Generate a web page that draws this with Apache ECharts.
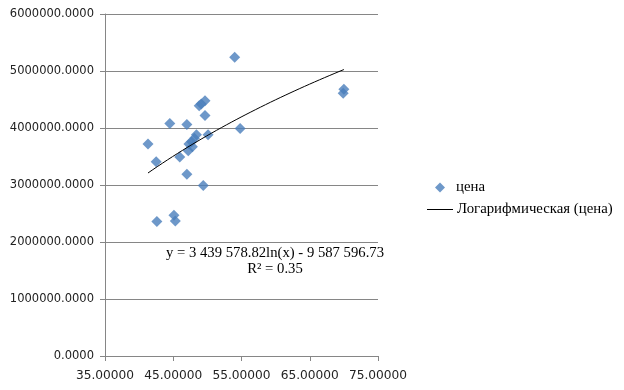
<!DOCTYPE html>
<html><head><meta charset="utf-8">
<script src="https://cdn.jsdelivr.net/npm/echarts@6/dist/echarts.min.js"></script>
<style>html,body{margin:0;padding:0;background:#fff}#c{width:624px;height:390px}</style>
</head><body><div id="c"></div>
<script>
const xValues = [54.0, 70.0, 69.9, 49.65, 49.1, 48.8, 49.65, 44.5, 47.0, 54.8, 41.3, 48.4, 50.1, 48.1, 47.7, 47.3, 47.8, 47.2, 45.95, 42.5, 47.0, 49.4, 42.6, 45.1, 45.3];
const yValues = [5240000, 4680000, 4610000, 4480000, 4420000, 4390000, 4220000, 4080000, 4060000, 3990000, 3720000, 3880000, 3880000, 3820000, 3760000, 3720000, 3670000, 3600000, 3490000, 3410000, 3190000, 2990000, 2360000, 2470000, 2370000];
const seriesName = 'цена';
const trendName = 'Логарифмическая (цена)';
const trendA = 3439578.82;   // coefficient shown on chart
const trendB = -9587596.73;  // intercept shown on chart
const eqText = 'y = 3 439 578.82ln(x) - 9 587 596.73';
const r2Text = 'R² = 0.35';

const pts = xValues.map((x, i) => [x, yValues[i]]);
const xmin = Math.min(...xValues), xmax = Math.max(...xValues);
const trend = [];
for (let k = 0; k <= 40; k++) {
  const x = xmin + (xmax - xmin) * k / 40;
  trend.push([x, trendA * Math.log(x) + trendB]);
}
const chart = echarts.init(document.getElementById('c'), null, {renderer: 'canvas'});
const axisColor = '#868686';
const serif = 'Liberation Serif';
chart.setOption({
  animation: false,
  grid: {left: 105, right: 246, top: 14, bottom: 34, containLabel: false},
  xAxis: {type: 'value', min: 35, max: 75, interval: 10,
    axisLine: {onZero: false, lineStyle: {color: axisColor}},
    axisTick: {show: true, length: 5, lineStyle: {color: axisColor}},
    splitLine: {show: false},
    axisLabel: {formatter: v => v.toFixed(5), margin: 14, fontFamily: 'DejaVu Sans', fontSize: 12.2, color: '#222'}},
  yAxis: {type: 'value', min: 0, max: 6000000, interval: 1000000,
    axisLine: {show: true, lineStyle: {color: axisColor}},
    axisTick: {show: true, length: 5, lineStyle: {color: axisColor}},
    splitLine: {show: true, lineStyle: {color: axisColor}},
    axisLabel: {formatter: v => v.toFixed(4), margin: 11, fontFamily: 'DejaVu Sans', fontSize: 11.5, color: '#222'}},
  legend: [
    {data: [seriesName], orient: 'vertical', left: 430, top: 175, icon: 'diamond', itemWidth: 10, itemHeight: 10, itemGap: 5,
      textStyle: {fontFamily: serif, fontSize: 14.8, color: '#000', padding: [0, 0, 0, 6]}},
    {data: [trendName], orient: 'vertical', left: 422, top: 197, icon: 'rect', itemWidth: 26, itemHeight: 1, itemGap: 5,
      textStyle: {fontFamily: serif, fontSize: 14.8, color: '#000', padding: [0, 0, 0, -1]}}
  ],
  graphic: [
    {type: 'text', x: 275, y: 253, style: {text: eqText, fontFamily: serif, fontSize: 14.7, fill: '#000', align: 'center', verticalAlign: 'middle'}},
    {type: 'text', x: 275, y: 269, style: {text: r2Text, fontFamily: serif, fontSize: 14.7, fill: '#000', align: 'center', verticalAlign: 'middle'}}
  ],
  series: [
    {name: seriesName, type: 'scatter', data: pts, symbol: 'diamond', symbolSize: 11, itemStyle: {color: '#4A7EBB'}, z: 3},
    {name: trendName, type: 'line', data: trend, showSymbol: false, symbol: 'none', smooth: false, lineStyle: {color: '#000', width: 1}, itemStyle: {color: '#000'}, z: 4}
  ]
});
</script></body></html>
